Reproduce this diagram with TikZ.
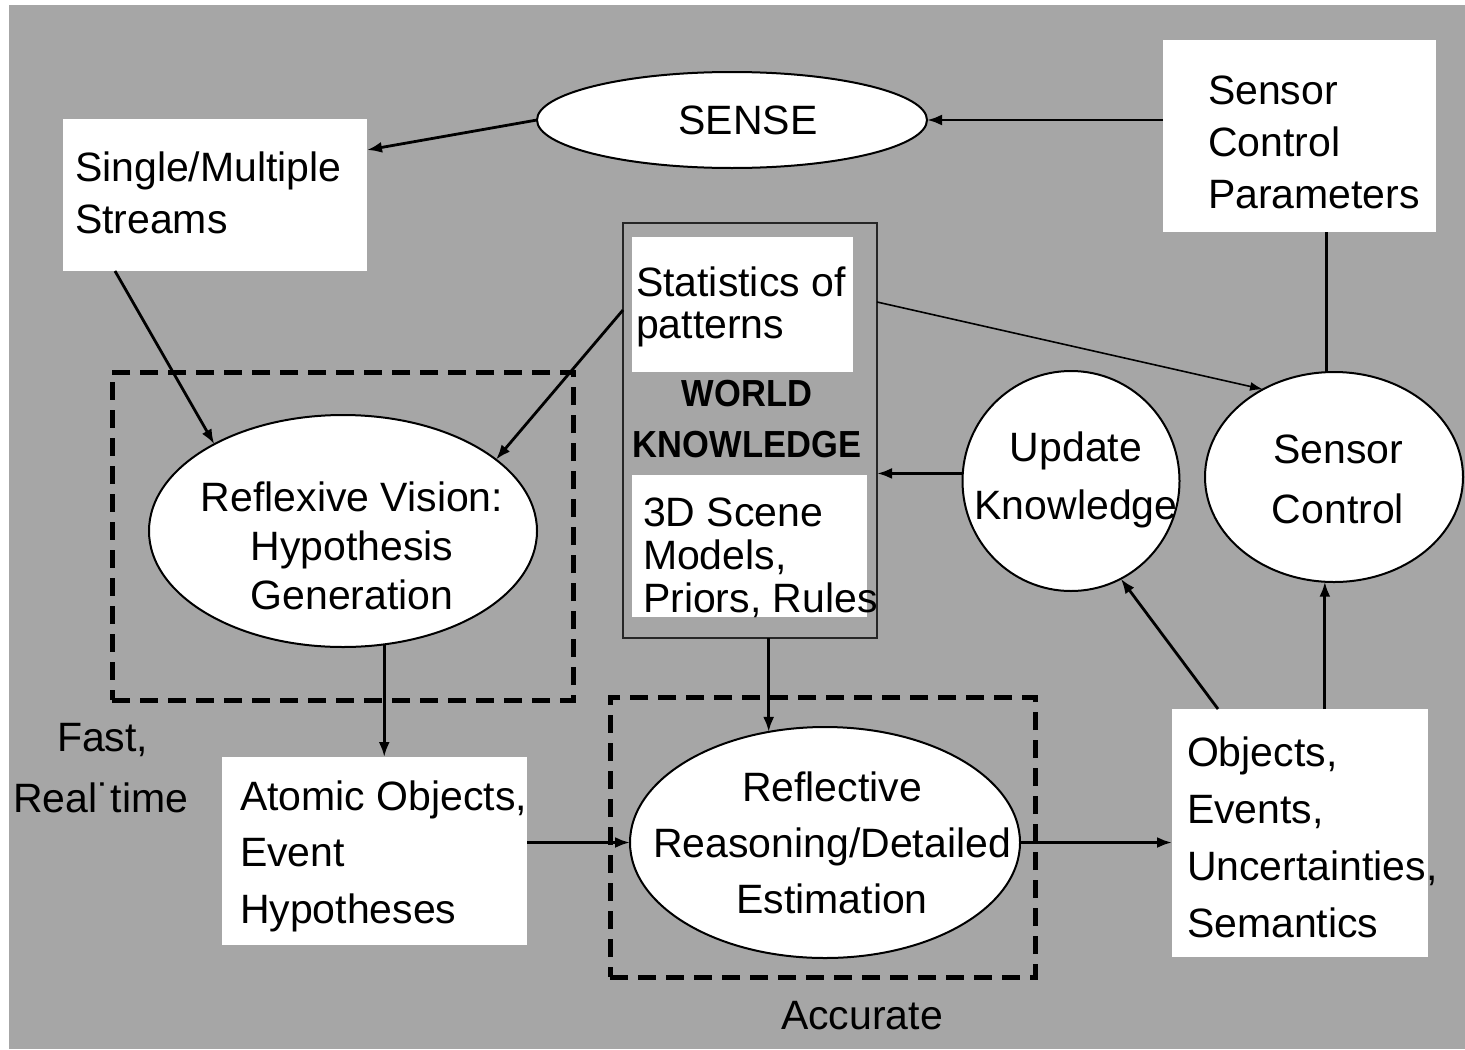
\documentclass[tikz,border=0pt]{standalone}
\usepackage{fontspec}
\setmainfont{Liberation Sans}
\usetikzlibrary{shapes.geometric,arrows.meta,fit,calc}
\definecolor{panelgray}{RGB}{166,166,166}
\tikzset{
  every node/.style={inner sep=0pt, outer sep=0pt},
  lbl/.style={font=\fontsize{20.5pt}{#1}\selectfont, text=black},
  lbl/.default=25pt,
  whitebox/.style={rectangle, fill=white, draw=none},
  oval/.style={ellipse, fill=white, draw=black, line width=1pt},
  zone/.style={rectangle, draw=black, line width=2.5pt, dash pattern=on 9pt off 5pt},
  arr/.style={-{Latex[length=7.5pt,width=5.5pt]}, line width=1.4pt},
  thinarr/.style={-{Latex[length=6.5pt,width=4.5pt]}, line width=0.8pt},
  plain/.style={line width=1.4pt},
}
\begin{document}
\begin{tikzpicture}[x=0.5pt,y=-0.5pt]
% canvas
\fill[white] (0,0) rectangle (1465,1049);
\fill[panelgray] (9,5) rectangle (1465,1049);
\useasboundingbox (0,0) rectangle (1465,1049);

% dashed zones
\node[zone, fit={(112,372) (573,700)}] (fastzone) {};
\node[zone, fit={(610,697) (1035,977)}] (acczone) {};

% rectangular blocks
\node[whitebox, fit={(63,119) (367,271)}] (single) {};
\node[whitebox, fit={(1163,40) (1436,232)}] (params) {};
\node[whitebox, fit={(222,757) (527,945)}] (atomic) {};
\node[whitebox, fit={(1172,709) (1428,957)}] (objects) {};
\node[rectangle, draw=black!85, line width=1pt, fit={(623,223) (877,638)}] (world) {};
\node[whitebox, fit={(632,237) (853,372)}] (stats) {};
\node[whitebox, fit={(632,475) (867,617)}] (scene) {};

% elliptical blocks
\node[oval, minimum width=195pt, minimum height=48pt] (sense) at (732,120) {};
\node[oval, minimum width=194pt, minimum height=116pt] (reflexive) at (343,531) {};
\node[oval, minimum width=195pt, minimum height=115.5pt] (reflective) at (825,842.5) {};
\node[oval, minimum width=108.5pt, minimum height=110pt] (update) at (1071,481) {};
\node[oval, minimum width=129pt, minimum height=105pt] (sensorctl) at (1334,477) {};

% labels
\node[lbl, align=center] (t-sense) at (748,120) {SENSE};
\node[lbl=26pt, align=left, anchor=west] (t-single) at (75,193) {Single/Multiple\\Streams};
\node[lbl=26pt, align=left, anchor=west] (t-params) at (1208,142) {Sensor\\Control\\Parameters};
\node[lbl=21pt, align=left, anchor=west] (t-stats) at (636,306.5) {Statistics of\\patterns};
\node[font=\fontsize{18.85pt}{25.5pt}\selectfont\bfseries, align=center] (t-world) at (747,419)
  {\scalebox{0.915}[1]{WORLD}\\\scalebox{0.915}[1]{KNOWLEDGE}};
\node[lbl=21.5pt, align=left, anchor=west] (t-scene) at (643,558) {3D Scene\\Models,\\Priors, Rules};
\node[lbl=24.5pt, align=center] (t-reflexive) at (352,546) {Reflexive Vision:\\Hypothesis\\Generation};
\node[lbl=28pt, align=center] (t-reflective) at (832,842.5) {Reflective\\Reasoning/Detailed\\Estimation};
\node[lbl=29pt, align=center] (t-update) at (1076,479.5) {Update\\Knowledge};
\node[lbl=30pt, align=center] (t-sensorctl) at (1338,479) {Sensor\\Control};
\node[lbl=28.25pt, align=left, anchor=west] (t-atomic) at (240,856) {Atomic Objects,\\Event\\Hypotheses};
\node[lbl=28.5pt, align=left, anchor=west] (t-objects) at (1187,837) {Objects,\\Events,\\Uncertainties,\\Semantics};
\node[lbl, anchor=west] (t-fast) at (57,740.5) {Fast,};
\node[lbl, anchor=west] (t-real) at (13,797.5) {Real˙time};
\node[lbl] (t-acc) at (862,1016) {Accurate};

% connectors
\draw[arr] (params.west |- sense.east) -- (sense.east);
\draw[arr] (sense.west) -- ($(single.east)+(0,-45)$);
\draw[arr] ($(single.south)+(-100,0)$) -- (reflexive.146.5);
\draw[arr] ($(world.north west)+(0,87)$) -- (reflexive.25);
\draw[arr] (reflexive.290.4) -- (reflexive.290.4 |- atomic.north);
\draw[arr] (reflective.117.3 |- world.south) -- (reflective.117.3);
\draw[arr] (atomic.east |- reflective.west) -- (reflective.west);
\draw[arr] (reflective.east) -- (reflective.east -| objects.west);
\draw[arr] ($(objects.north west)+(46,0)$) -- (update.297.3);
\draw[arr] (sensorctl.265.1 |- objects.north) -- (sensorctl.265.1);
\draw[plain] (sensorctl.94) -- (sensorctl.94 |- params.south);
\draw[arr] (update.176.8) -- (update.176.8 -| world.east);
\draw[thinarr] ($(world.north east)+(0,79)$) -- (sensorctl.129.6);
\end{tikzpicture}
\end{document}
